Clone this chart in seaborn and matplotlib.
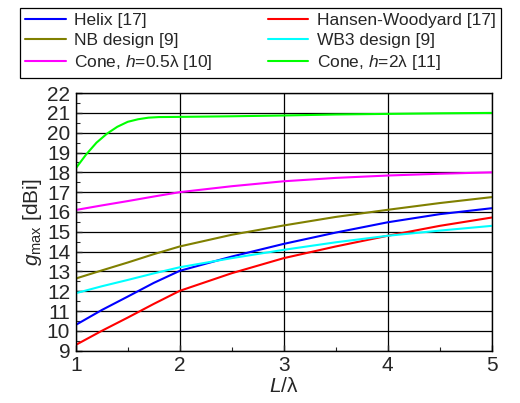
import matplotlib
matplotlib.use("Agg")
import matplotlib.pyplot as plt
import numpy as np
import pandas as pd
import seaborn as sns
from matplotlib.ticker import MultipleLocator

# values (L/lambda vs g_max in dBi)
x_fine = [1.0, 1.1, 1.2, 1.3, 1.4, 1.5, 1.6, 1.7, 1.8, 2.0, 2.5, 3.0, 3.5, 4.0, 4.5, 5.0]
cone2 = [18.2, 18.9, 19.5, 19.95, 20.3, 20.55, 20.68, 20.76, 20.79, 20.8, 20.83, 20.87, 20.92, 20.95, 20.98, 21.0]

x_main = [1.0, 1.25, 1.5, 1.75, 2.0, 2.5, 3.0, 3.5, 4.0, 4.5, 5.0]
helix = [10.3, 11.05, 11.73, 12.42, 13.03, 13.75, 14.39, 14.96, 15.48, 15.89, 16.19]
hansen = [9.29, 10.0, 10.67, 11.36, 12.02, 12.91, 13.67, 14.26, 14.8, 15.3, 15.72]
nb = [12.64, 13.05, 13.45, 13.87, 14.26, 14.85, 15.32, 15.75, 16.11, 16.45, 16.75]
wb3 = [11.9, 12.25, 12.57, 12.9, 13.21, 13.67, 14.09, 14.47, 14.8, 15.06, 15.3]
cone05 = [16.1, 16.33, 16.55, 16.78, 17.0, 17.3, 17.55, 17.72, 17.84, 17.93, 18.0]

names = ["Helix [17]", "Hansen-Woodyard [17]", "NB design [9]",
         "WB3 design [9]", "Cone, $h$=0.5λ [10]", "Cone, $h$=2λ [11]"]
colors = ["#0000ff", "#ff0000", "#808000", "#00ffff", "#ff00ff", "#00ff00"]

series = [(x_main, helix), (x_main, hansen), (x_main, nb),
          (x_main, wb3), (x_main, cone05), (x_fine, cone2)]
frames = []
for name, (xs, ys) in zip(names, series):
    frames.append(pd.DataFrame({"L": xs, "g": ys, "design": name}))
df = pd.concat(frames, ignore_index=True)

sns.set_style("white")
plt.rcParams['font.family'] = ['Liberation Sans', 'DejaVu Sans']
plt.rcParams['mathtext.fontset'] = 'custom'
plt.rcParams['mathtext.rm'] = 'Liberation Sans'
plt.rcParams['mathtext.it'] = 'Liberation Sans:italic'

fig = plt.figure(figsize=(5.2, 4.03), dpi=100)
ax = fig.add_axes([0.1456, 0.1298, 0.80, 0.6392])

sns.lineplot(data=df, x="L", y="g", hue="design", hue_order=names,
             palette=dict(zip(names, colors)), linewidth=1.5, ax=ax,
             legend=False, sort=True)

ax.set_xlim(1, 5)
ax.set_ylim(9, 22)
ax.xaxis.set_major_locator(MultipleLocator(1))
ax.xaxis.set_minor_locator(MultipleLocator(0.5))
ax.yaxis.set_major_locator(MultipleLocator(1))
ax.yaxis.set_minor_locator(MultipleLocator(0.5))
ax.grid(True, which="major", color="black", linewidth=0.9)
ax.set_axisbelow(True)
ax.tick_params(axis="both", which="both", direction="in", labelsize=15,
               bottom=True, left=True, top=False, right=False)
ax.tick_params(which="major", length=4, width=1, pad=4)
ax.tick_params(which="minor", length=3, width=0.8)
for sp in ax.spines.values():
    sp.set_color("black")
    sp.set_linewidth(1.0)

ax.set_xlabel(r"$L$/λ", fontsize=15, labelpad=1)
ax.set_ylabel(r"$g_{\mathrm{max}}$ [dBi]", fontsize=15, labelpad=2)

# legend filled row-wise like the reference (column-major order for matplotlib)
order = [0, 2, 4, 1, 3, 5]
handles = [plt.Line2D([], [], color=colors[i], linewidth=1.5) for i in order]
labels = [names[i] for i in order]
leg = fig.legend(handles, labels, loc="upper left",
                 bbox_to_anchor=(0.038, 0.98),
                 ncol=2, fontsize=12.5, frameon=True, fancybox=False,
                 edgecolor="black", framealpha=1, handlelength=2.35,
                 handletextpad=0.5, borderpad=0.3, labelspacing=0.28,
                 columnspacing=3.15, borderaxespad=0)
leg.get_frame().set_linewidth(0.9)

fig.savefig("out.png", dpi=100)
